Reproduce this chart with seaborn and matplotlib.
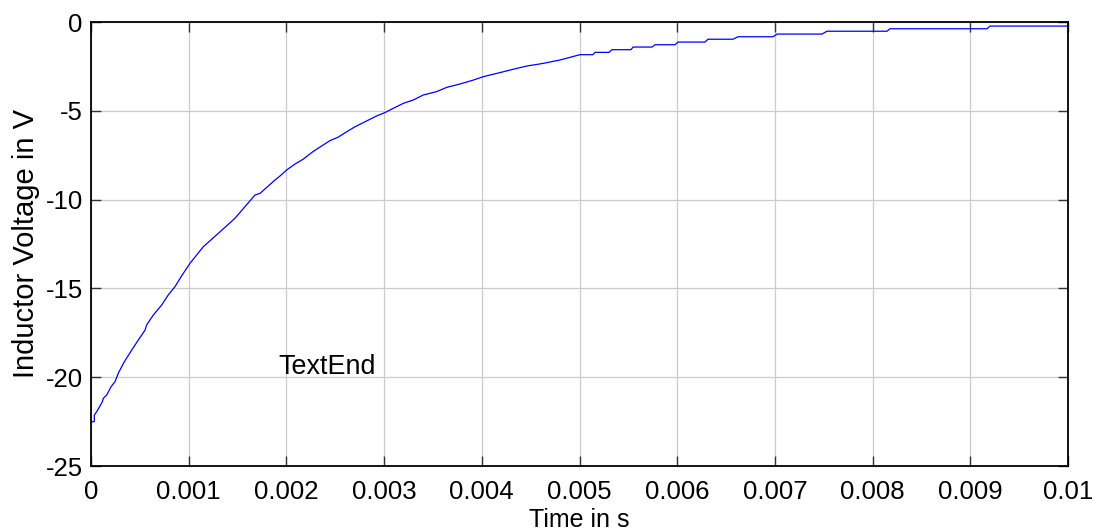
import matplotlib
matplotlib.use("Agg")
import matplotlib.pyplot as plt
import seaborn as sns
import numpy as np
import pandas as pd

# Inductor voltage trace of the RL discharge (time in s, voltage in V)
time_s = [
    0.0, 0.0000338, 0.0000338, 0.0000583, 0.0000921, 0.000116, 0.000126, 0.000161,
    0.000205, 0.000246, 0.000279, 0.000341, 0.000417, 0.000484, 0.000553, 0.000570,
    0.000638, 0.000724, 0.000791, 0.000860, 0.000934, 0.001013, 0.001150, 0.001303,
    0.001474, 0.001679, 0.001730, 0.001883, 0.001935, 0.002003, 0.002088, 0.002170,
    0.002272, 0.002361, 0.002446, 0.002528, 0.002617, 0.002702, 0.002822, 0.002924,
    0.003009, 0.003094, 0.003197, 0.003299, 0.003401, 0.003538, 0.003641, 0.003777,
    0.003913, 0.004015, 0.004186, 0.004322, 0.004460, 0.004629, 0.004800,
    0.005005, 0.005138, 0.005159, 0.005302, 0.005333, 0.005527, 0.005548, 0.005742,
    0.005773, 0.005978, 0.006008, 0.006285, 0.006315, 0.006571, 0.006622, 0.006981,
    0.007022, 0.007482, 0.007533, 0.008147, 0.008178, 0.009171, 0.009202, 0.010000,
]
voltage_v = [
    -22.52, -22.50, -22.13, -21.94, -21.62, -21.38, -21.19, -21.00,
    -20.54, -20.25, -19.78, -19.13, -18.47, -17.91, -17.35, -17.05,
    -16.50, -15.93, -15.37, -14.90, -14.24, -13.59, -12.65, -11.90,
    -11.05, -9.74, -9.65, -8.90, -8.67, -8.33, -8.00, -7.73,
    -7.30, -6.98, -6.68, -6.49, -6.18, -5.90, -5.57, -5.29,
    -5.10, -4.86, -4.58, -4.39, -4.11, -3.92, -3.68, -3.49,
    -3.27, -3.08, -2.85, -2.66, -2.48, -2.33, -2.14,
    -1.84, -1.84, -1.71, -1.71, -1.56, -1.56, -1.41, -1.41,
    -1.28, -1.28, -1.13, -1.13, -0.97, -0.97, -0.83, -0.83,
    -0.68, -0.68, -0.52, -0.52, -0.38, -0.38, -0.23, -0.23,
]

x_ticks = [0, 0.001, 0.002, 0.003, 0.004, 0.005, 0.006, 0.007, 0.008, 0.009, 0.01]
x_tick_labels = ["0", "0.001", "0.002", "0.003", "0.004", "0.005",
                 "0.006", "0.007", "0.008", "0.009", "0.01"]
y_ticks = [-25, -20, -15, -10, -5, 0]
y_tick_labels = ["-25", "-20", "-15", "-10", "-5", "0"]

sns.set_theme(style="white")
plt.rcParams["font.family"] = ["Liberation Sans", "DejaVu Sans"]
plt.rcParams["axes.unicode_minus"] = False

df = pd.DataFrame({"t": time_s, "v": voltage_v})

fig = plt.figure(figsize=(10.95, 5.31), dpi=100)
ax = fig.add_axes([91 / 1095, 1 - 466 / 531, 977 / 1095, 444 / 531])

sns.lineplot(data=df, x="t", y="v", estimator=None, sort=False,
             color="#0000ff", linewidth=0.9, ax=ax)

ax.set_xlim(0, 0.01)
ax.set_ylim(-25, 0)
ax.set_xticks(x_ticks)
ax.set_xticklabels(x_tick_labels)
ax.set_yticks(y_ticks)
ax.set_yticklabels(y_tick_labels)

ax.grid(True, color="#cccccc", linewidth=0.9, linestyle="-")
ax.set_axisbelow(True)
for side in ["left", "right", "top", "bottom"]:
    ax.spines[side].set_visible(True)
    ax.spines[side].set_color("black")
    ax.spines[side].set_linewidth(1.3)

ax.tick_params(axis="both", which="major", direction="in", length=7, width=1.0,
               color="#333333", labelsize=18.5, labelcolor="black",
               top=True, right=True, bottom=True, left=True)
ax.tick_params(axis="x", pad=10)
ax.tick_params(axis="y", pad=6)

ax.set_xlabel("Time in s", fontsize=18, color="black", labelpad=3)
ax.set_ylabel("Inductor Voltage in V", fontsize=21, color="black", labelpad=4)

ax.text(0.00192, -19.84, "TextEnd", fontsize=19.4, color="black",
        ha="left", va="baseline")

fig.savefig("out.png", dpi=100)
